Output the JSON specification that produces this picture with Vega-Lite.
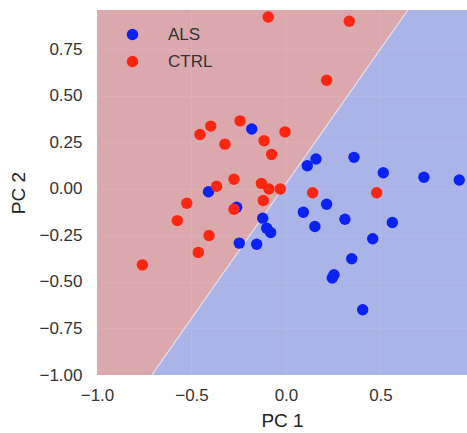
{
  "$schema": "https://vega.github.io/schema/vega-lite/v6.json",
  "width": 370,
  "height": 365,
  "autosize": {"type": "none"},
  "padding": {"left": 97, "top": 10, "right": 0, "bottom": 58},
  "background": "white",
  "config": {
    "view": {"stroke": null, "fill": "#EAEAF2"},
    "font": "Liberation Sans",
    "axis": {
      "domain": false,
      "ticks": false,
      "labelFlush": false,
      "gridColor": "white",
      "gridWidth": 1,
      "labelFont": "Liberation Sans",
      "labelFontSize": 17,
      "labelColor": "#333333",
      "titleFont": "Liberation Sans",
      "titleFontSize": 19,
      "titleFontWeight": "normal",
      "titleColor": "#222222"
    },
    "legend": {
      "orient": "none",
      "legendX": 27,
      "legendY": 16,
      "padding": 0,
      "labelFont": "Liberation Sans",
      "labelFontSize": 17,
      "labelColor": "#333333",
      "labelOffset": 27,
      "symbolSize": 130,
      "symbolType": "circle",
      "symbolStrokeWidth": 0,
      "rowPadding": 9
    }
  },
  "datasets": {
    "redRegion": [
      {"pc1": -1.0, "lo": -1.0, "hi": 0.962},
      {"pc1": -0.71, "lo": -1.0, "hi": 0.962},
      {"pc1": 0.645, "lo": 0.962, "hi": 0.962}
    ],
    "blueRegion": [
      {"pc1": -0.71, "lo": -1.0, "hi": -1.0},
      {"pc1": 0.645, "lo": -1.0, "hi": 0.962},
      {"pc1": 0.958, "lo": -1.0, "hi": 0.962}
    ],
    "boundary": [
      {"pc1": -0.71, "pc2": -1.0},
      {"pc1": 0.645, "pc2": 0.962}
    ],
    "points": [
      {"label": "ALS", "pc1": -0.181, "pc2": 0.322},
      {"label": "ALS", "pc1": -0.41, "pc2": -0.015},
      {"label": "ALS", "pc1": -0.261, "pc2": -0.098},
      {"label": "ALS", "pc1": -0.123, "pc2": -0.157},
      {"label": "ALS", "pc1": -0.102, "pc2": -0.211},
      {"label": "ALS", "pc1": -0.081, "pc2": -0.234},
      {"label": "ALS", "pc1": -0.247, "pc2": -0.291},
      {"label": "ALS", "pc1": -0.155, "pc2": -0.297},
      {"label": "ALS", "pc1": 0.159, "pc2": 0.161},
      {"label": "ALS", "pc1": 0.113, "pc2": 0.125},
      {"label": "ALS", "pc1": 0.36, "pc2": 0.17},
      {"label": "ALS", "pc1": 0.515, "pc2": 0.087},
      {"label": "ALS", "pc1": 0.73, "pc2": 0.063},
      {"label": "ALS", "pc1": 0.917, "pc2": 0.048},
      {"label": "ALS", "pc1": 0.215, "pc2": -0.082},
      {"label": "ALS", "pc1": 0.092, "pc2": -0.125},
      {"label": "ALS", "pc1": 0.153, "pc2": -0.202},
      {"label": "ALS", "pc1": 0.312, "pc2": -0.163},
      {"label": "ALS", "pc1": 0.563, "pc2": -0.18},
      {"label": "ALS", "pc1": 0.459, "pc2": -0.268},
      {"label": "ALS", "pc1": 0.348, "pc2": -0.375},
      {"label": "ALS", "pc1": 0.254, "pc2": -0.461},
      {"label": "ALS", "pc1": 0.245, "pc2": -0.479},
      {"label": "ALS", "pc1": 0.406, "pc2": -0.649},
      {"label": "CTRL", "pc1": -0.094, "pc2": 0.924},
      {"label": "CTRL", "pc1": 0.335, "pc2": 0.902},
      {"label": "CTRL", "pc1": 0.215, "pc2": 0.584},
      {"label": "CTRL", "pc1": -0.243, "pc2": 0.366},
      {"label": "CTRL", "pc1": -0.398, "pc2": 0.338},
      {"label": "CTRL", "pc1": -0.455, "pc2": 0.293},
      {"label": "CTRL", "pc1": -0.323, "pc2": 0.241},
      {"label": "CTRL", "pc1": -0.116, "pc2": 0.259},
      {"label": "CTRL", "pc1": -0.005, "pc2": 0.307},
      {"label": "CTRL", "pc1": -0.076, "pc2": 0.186},
      {"label": "CTRL", "pc1": -0.275, "pc2": 0.052},
      {"label": "CTRL", "pc1": -0.13, "pc2": 0.03},
      {"label": "CTRL", "pc1": -0.09, "pc2": 0.0},
      {"label": "CTRL", "pc1": -0.03, "pc2": 0.0},
      {"label": "CTRL", "pc1": -0.367, "pc2": 0.015},
      {"label": "CTRL", "pc1": 0.141, "pc2": -0.02},
      {"label": "CTRL", "pc1": 0.48, "pc2": -0.02},
      {"label": "CTRL", "pc1": -0.12, "pc2": -0.062},
      {"label": "CTRL", "pc1": -0.525, "pc2": -0.077},
      {"label": "CTRL", "pc1": -0.575, "pc2": -0.17},
      {"label": "CTRL", "pc1": -0.275, "pc2": -0.109},
      {"label": "CTRL", "pc1": -0.407, "pc2": -0.25},
      {"label": "CTRL", "pc1": -0.464, "pc2": -0.341},
      {"label": "CTRL", "pc1": -0.76, "pc2": -0.408}
    ]
  },
  "encoding": {
    "x": {
      "field": "pc1",
      "type": "quantitative",
      "title": "PC 1",
      "scale": {"domain": [-1.0, 0.958], "nice": false, "zero": false},
      "axis": {"values": [-1.0, -0.5, 0.0, 0.5], "format": ".1f", "labelPadding": 12, "titlePadding": 8}
    },
    "y": {
      "field": "pc2",
      "type": "quantitative",
      "title": "PC 2",
      "scale": {"domain": [-1.0, 0.962], "nice": false, "zero": false},
      "axis": {"values": [-1.0, -0.75, -0.5, -0.25, 0.0, 0.25, 0.5, 0.75], "format": ".2f", "labelPadding": 15, "titlePadding": 10}
    }
  },
  "layer": [
    {
      "data": {"name": "redRegion"},
      "mark": {"type": "area", "color": "#d69396", "opacity": 0.75, "clip": true},
      "encoding": {
        "y": {"field": "lo", "type": "quantitative"},
        "y2": {"field": "hi"}
      }
    },
    {
      "data": {"name": "blueRegion"},
      "mark": {"type": "area", "color": "#96a2e1", "opacity": 0.75, "clip": true},
      "encoding": {
        "y": {"field": "lo", "type": "quantitative"},
        "y2": {"field": "hi"}
      }
    },
    {
      "data": {"name": "boundary"},
      "mark": {"type": "line", "color": "white", "strokeWidth": 1.2, "opacity": 0.6, "clip": true},
      "encoding": {}
    },
    {
      "data": {"name": "points"},
      "mark": {"type": "circle", "size": 130, "opacity": 1},
      "encoding": {
        "color": {
          "field": "label",
          "type": "nominal",
          "title": null,
          "scale": {"domain": ["ALS", "CTRL"], "range": ["#0b22f5", "#ff2611"]}
        }
      }
    }
  ]
}
